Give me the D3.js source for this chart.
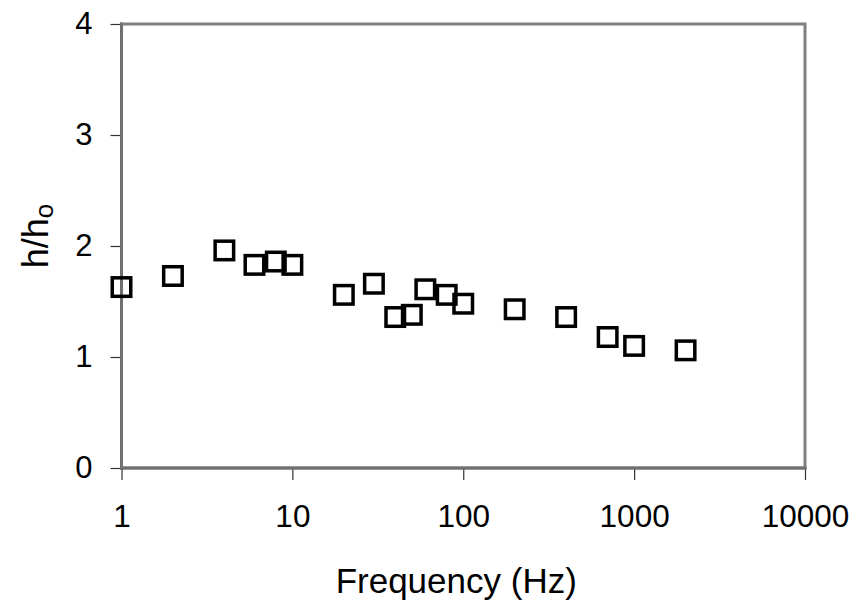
<!DOCTYPE html>
<html>
<head>
<meta charset="utf-8">
<script src="https://cdn.jsdelivr.net/npm/d3@7"></script>
<style>
  html, body { margin: 0; padding: 0; background: #fff; }
  svg { display: block; }
  text { font-family: "Liberation Sans", Arial, sans-serif; fill: #000; }
</style>
</head>
<body>
<svg id="chart" width="857" height="601"></svg>
<script>
// Data
const frequency = [1, 2, 4, 6, 8, 10, 20, 30, 40, 50, 60, 80, 100, 200, 400, 700, 1000, 2000];
const ratio     = [1.63, 1.73, 1.96, 1.83, 1.86, 1.83, 1.56, 1.66, 1.36, 1.38, 1.61, 1.56, 1.48, 1.43, 1.36, 1.18, 1.10, 1.06];
const xTicks = [1, 10, 100, 1000, 10000];
const yTicks = [0, 1, 2, 3, 4];

const svg = d3.select("#chart");
const pLeft = 121.5, pRight = 805, pTop = 24, pBottom = 468;

const x = d3.scaleLog().domain([1, 10000]).range([pLeft, pRight]);
const y = d3.scaleLinear().domain([0, 4]).range([pBottom, pTop]);

// frame
svg.append("rect")
  .attr("x", pLeft).attr("y", pTop)
  .attr("width", pRight - pLeft).attr("height", pBottom - pTop)
  .attr("fill", "none").attr("stroke", "#808080").attr("stroke-width", 3);

// y axis
const yAxis = svg.append("g").attr("transform", `translate(${pLeft},0)`)
  .call(d3.axisLeft(y).tickValues(yTicks).tickSize(11).tickPadding(18).tickFormat(d3.format("d")));
yAxis.select(".domain").remove();
yAxis.selectAll(".tick line").attr("stroke", "#333").attr("stroke-width", 1.2);
yAxis.selectAll(".tick text").style("font-size", "31px").style("font-family", "Liberation Sans, Arial, sans-serif");

// x axis
const xAxis = svg.append("g").attr("transform", `translate(0,${pBottom})`)
  .call(d3.axisBottom(x).tickValues(xTicks).tickSize(12).tickPadding(25).tickFormat(d3.format("d")));
xAxis.select(".domain").remove();
xAxis.selectAll(".tick line").attr("stroke", "#333").attr("stroke-width", 1.2);
xAxis.selectAll(".tick text").style("font-size", "31.5px").style("font-family", "Liberation Sans, Arial, sans-serif");

// left/bottom axis lines on top
svg.append("line").attr("x1", pLeft).attr("x2", pLeft).attr("y1", pTop - 1.5).attr("y2", pBottom + 1.5)
  .attr("stroke", "#707070").attr("stroke-width", 3);
svg.append("line").attr("x1", pLeft - 1.5).attr("x2", pRight + 1.5).attr("y1", pBottom).attr("y2", pBottom)
  .attr("stroke", "#707070").attr("stroke-width", 3);

// markers
const s = 18.5;
svg.append("g").selectAll("rect").data(frequency).join("rect")
  .attr("x", d => x(d) - s / 2)
  .attr("y", (d, i) => y(ratio[i]) - s / 2)
  .attr("width", s).attr("height", s)
  .attr("fill", "none").attr("stroke", "#000").attr("stroke-width", 3.5);

// axis titles
svg.append("text")
  .attr("x", (pLeft + pRight) / 2 - 7).attr("y", 593)
  .attr("text-anchor", "middle")
  .style("font-size", "35px")
  .text("Frequency (Hz)");

const yt = svg.append("text")
  .attr("transform", "translate(48,236) rotate(-90)")
  .attr("text-anchor", "middle")
  .style("font-size", "36px");
yt.append("tspan").text("h/h");
yt.append("tspan").attr("dy", 5).style("font-size", "26px").text("o");
</script>
</body>
</html>
